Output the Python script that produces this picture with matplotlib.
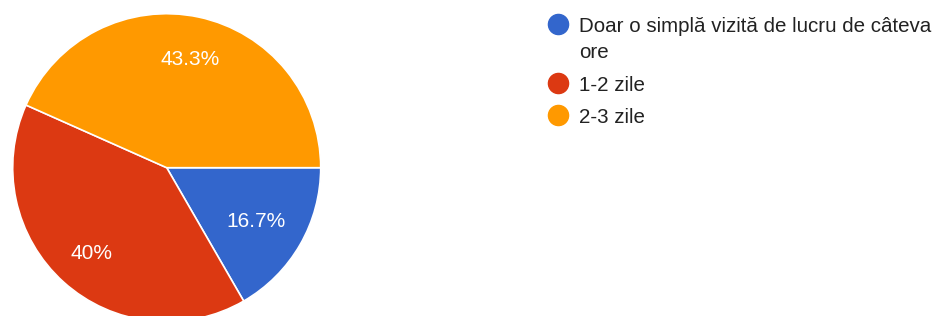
import matplotlib.pyplot as plt
from matplotlib.lines import Line2D

plt.rcParams['font.family'] = ['Liberation Sans', 'DejaVu Sans']

categories = ["Doar o simplă vizită de lucru de câteva\nore", "1-2 zile", "2-3 zile"]
counts = [5, 12, 13]
colors = ["#3366CC", "#DC3912", "#FF9900"]


def fmt_pct(p):
    s = f"{p:.1f}"
    if s.endswith(".0"):
        s = s[:-2]
    return s + "%"


W, H = 934, 316
fig = plt.figure(figsize=(W / 100, H / 100), dpi=100)

# pie: center (166.7, 167.7) px from top-left, radius 154 px
cx, cy, r = 166.7, H - 167.7, 154
ax = fig.add_axes([(cx - r) / W, (cy - r) / H, 2 * r / W, 2 * r / H])

wedges, texts, autotexts = ax.pie(
    counts, colors=colors, startangle=0, counterclock=False,
    autopct=fmt_pct, pctdistance=0.73, radius=1,
    wedgeprops=dict(edgecolor="white", linewidth=1.2),
    textprops=dict(color="white", fontsize=15),
)
# blue label sits a bit closer to the center
x, y = autotexts[0].get_position()
autotexts[0].set_position((x * 0.92, y * 0.92))
for t in autotexts:
    t.set_va("center_baseline")

ax.set_xlim(-1, 1)
ax.set_ylim(-1, 1)
ax.set_aspect("equal")
ax.axis("off")

# legend drawn by hand (Google Forms style: marker aligned with first line)
line_gap, entry_gap = 26.6, 32.5
y = 31.7
for lab, c in zip(categories, colors):
    fig.add_artist(Line2D([558.3 / W], [1 - (y - 8) / H], marker="o",
                          markersize=14.5, color=c, linestyle="none",
                          transform=fig.transFigure))
    lines = lab.split("\n")
    for k, part in enumerate(lines):
        fig.text(579 / W, 1 - y / H, part, fontsize=14.8, color="#222222",
                 va="baseline", ha="left")
        if k < len(lines) - 1:
            y += line_gap
    y += entry_gap

fig.savefig("out.png", dpi=100)
